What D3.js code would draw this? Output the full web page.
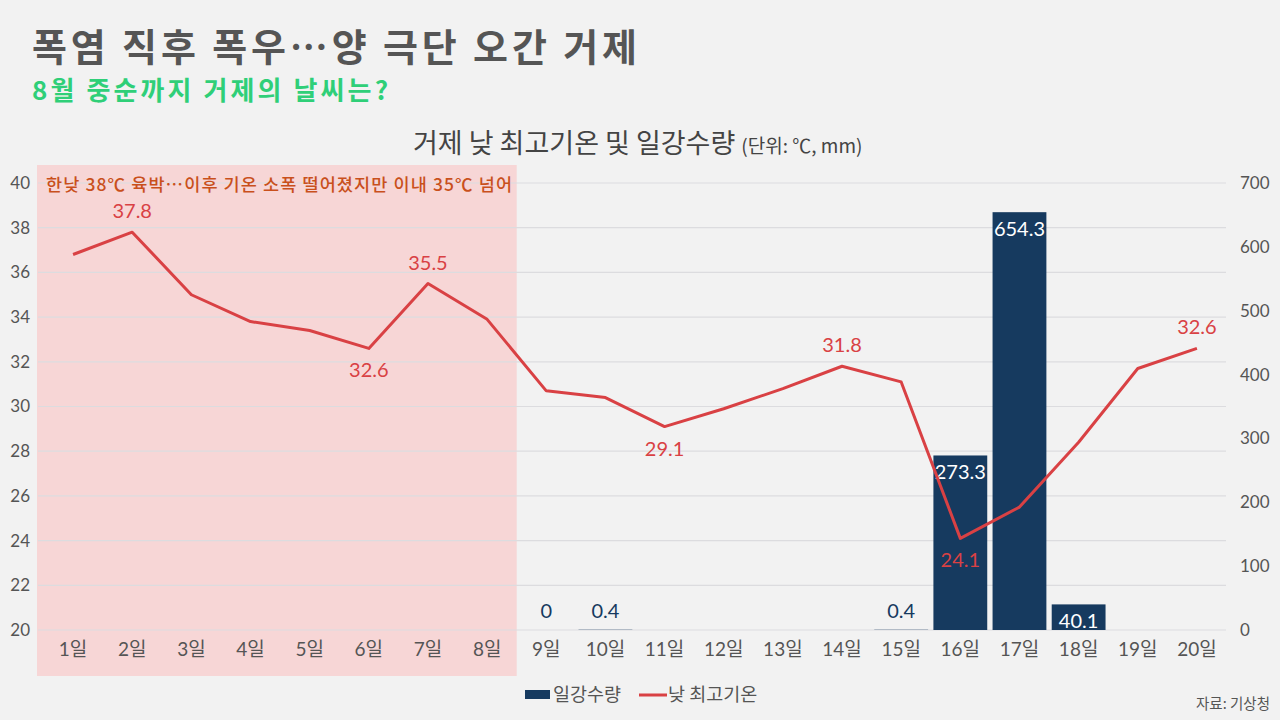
<!DOCTYPE html>
<html>
<head>
<meta charset="utf-8">
<script src="https://cdn.jsdelivr.net/npm/d3@7"></script>
<style>
  body { margin: 0; background: #f2f2f2; }
  svg { display: block; }
</style>
</head>
<body>
<div id="viz"></div>
<script>
const days = ["1일","2일","3일","4일","5일","6일","7일","8일","9일","10일",
  "11일","12일","13일","14일","15일","16일","17일","18일","19일","20일"];

// 낮 최고기온 (℃)
const temps = [36.8, 37.8, 35.0, 33.8, 33.4, 32.6, 35.5, 33.9, 30.7, 30.4,
  29.1, 29.9, 30.8, 31.8, 31.1, 24.1, 25.5, 28.4, 31.7, 32.6];

// 일강수량 (mm), null = 표시 없음
const rain = [null, null, null, null, null, null, null, null, 0, 0.4,
  null, null, null, null, 0.4, 273.3, 654.3, 40.1, null, null];

// which temperature points get a label, and where
const tempLabels = [
  {day: "2일", pos: "above"},
  {day: "6일", pos: "below"},
  {day: "7일", pos: "above"},
  {day: "11일", pos: "below"},
  {day: "14일", pos: "above"},
  {day: "16일", pos: "below"},
  {day: "20일", pos: "above"},
];

const leftTicks = [20, 22, 24, 26, 28, 30, 32, 34, 36, 38, 40];
const rightTicks = [0, 100, 200, 300, 400, 500, 600, 700];
const heatDays = ["1일","2일","3일","4일","5일","6일","7일","8일"];

const W = 1280, H = 720;
const font = "Lato, 'Noto Sans CJK KR', sans-serif";
const kfont = "'Noto Sans CJK KR', sans-serif";
const navy = "#163a5f", red = "#d94144";

const svg = d3.select("#viz").append("svg")
  .attr("width", W).attr("height", H)
  .style("background", "#f2f2f2");

const x = d3.scaleBand().domain(days).range([43.5, 1226.5]).paddingInner(0.09).paddingOuter(0.045);
const yT = d3.scaleLinear().domain([20, 40]).range([630, 183]);
const yR = d3.scaleLinear().domain([0, 700]).range([630, 183]);
const cx = d => x(d) + x.bandwidth() / 2;
const step = x.step();

// heat wave shading
svg.append("rect")
  .attr("x", 37)
  .attr("y", 165)
  .attr("width", x(heatDays[heatDays.length - 1]) + x.bandwidth() + (step - x.bandwidth()) / 2 - 37)
  .attr("height", 676 - 165)
  .attr("fill", "#f7d6d6");

// grid
svg.append("g").selectAll("line")
  .data(leftTicks)
  .join("line")
    .attr("x1", 38).attr("x2", 1226)
    .attr("y1", d => yT(d)).attr("y2", d => yT(d))
    .attr("stroke", "#dcdcdf")
    .attr("stroke-width", 1.2);

// left axis
const axL = svg.append("g")
  .attr("transform", "translate(30,0)")
  .call(d3.axisLeft(yT).tickValues(leftTicks).tickSize(0).tickPadding(0));
axL.select(".domain").remove();
axL.selectAll("text").attr("font-family", font).attr("font-size", 17).attr("fill", "#555");

// right axis
const axR = svg.append("g")
  .attr("transform", "translate(1240,0)")
  .call(d3.axisRight(yR).tickValues(rightTicks).tickSize(0).tickPadding(0));
axR.select(".domain").remove();
axR.selectAll("text").attr("font-family", font).attr("font-size", 17).attr("fill", "#555");

// x axis
const axX = svg.append("g")
  .attr("transform", "translate(0,645)")
  .call(d3.axisBottom(x).tickSize(0).tickPadding(0));
axX.select(".domain").remove();
axX.selectAll("text")
  .attr("dy", "0.6em")
  .attr("font-family", font).attr("font-size", 19).attr("fill", "#555");

// bars
const rainData = days.map((d, i) => ({day: d, v: rain[i]})).filter(d => d.v !== null);

svg.append("g").selectAll("rect")
  .data(rainData)
  .join("rect")
    .attr("x", d => x(d.day))
    .attr("width", x.bandwidth())
    .attr("y", d => yR(d.v))
    .attr("height", d => yR(0) - yR(d.v))
    .attr("fill", navy);

svg.append("g").selectAll("text")
  .data(rainData)
  .join("text")
    .attr("x", d => cx(d.day))
    .attr("y", d => d.v > 20 ? yR(d.v) + 24 : yR(0) - 12)
    .attr("text-anchor", "middle")
    .attr("font-family", font)
    .attr("font-size", 20)
    .attr("fill", d => d.v > 20 ? "#fff" : navy)
    .text(d => d.v);

// temperature line
const tempData = days.map((d, i) => ({day: d, v: temps[i]}));
const line = d3.line().x(d => cx(d.day)).y(d => yT(d.v));

svg.append("path")
  .datum(tempData)
  .attr("d", line)
  .attr("fill", "none")
  .attr("stroke", red)
  .attr("stroke-width", 3)
  .attr("stroke-linejoin", "round");

svg.append("g").selectAll("text")
  .data(tempLabels)
  .join("text")
    .attr("x", d => cx(d.day))
    .attr("y", d => {
      const v = temps[days.indexOf(d.day)];
      return d.pos === "above" ? yT(v) - 14 : yT(v) + 29;
    })
    .attr("text-anchor", "middle")
    .attr("font-family", font)
    .attr("font-size", 20)
    .attr("fill", red)
    .text(d => temps[days.indexOf(d.day)].toFixed(1));

// annotation
svg.append("text")
  .attr("x", 279).attr("y", 191)
  .attr("text-anchor", "middle")
  .attr("font-family", kfont)
  .attr("font-size", 17.5)
  .attr("font-weight", 500)
  .attr("fill", "#c9501c")
  .attr("textLength", 466)
  .attr("lengthAdjust", "spacing")
  .text("한낮 38℃ 육박…이후 기온 소폭 떨어졌지만 이내 35℃ 넘어");

// titles
svg.append("text")
  .attr("x", 32).attr("y", 61)
  .attr("font-family", kfont)
  .attr("font-size", 38)
  .attr("font-weight", 700)
  .attr("fill", "#555")
  .attr("textLength", 605)
  .attr("lengthAdjust", "spacing")
  .text("폭염 직후 폭우…양 극단 오간 거제");

svg.append("text")
  .attr("x", 32).attr("y", 100)
  .attr("font-family", kfont)
  .attr("font-size", 26)
  .attr("font-weight", 700)
  .attr("fill", "#2fcf78")
  .attr("textLength", 356)
  .attr("lengthAdjust", "spacing")
  .text("8월 중순까지 거제의 날씨는?");

const ct = svg.append("text")
  .attr("x", 413).attr("y", 153)
  .attr("font-family", kfont)
  .attr("fill", "#444");
ct.append("tspan").attr("font-size", 27).text("거제 낮 최고기온 및 일강수량 ");
ct.append("tspan").attr("font-size", 19).text("(단위: ℃, mm)");

// legend
const lg = svg.append("g").attr("transform", "translate(525,694)");
lg.append("rect").attr("x", 0).attr("y", -4).attr("width", 25).attr("height", 9).attr("fill", navy);
lg.append("text").attr("x", 28).attr("y", 7)
  .attr("font-family", kfont).attr("font-size", 18.5).attr("fill", "#555").text("일강수량");
lg.append("line").attr("x1", 114).attr("x2", 142).attr("y1", 1).attr("y2", 1)
  .attr("stroke", red).attr("stroke-width", 3);
lg.append("text").attr("x", 143).attr("y", 7)
  .attr("font-family", kfont).attr("font-size", 18.5).attr("fill", "#555").text("낮 최고기온");

// source
svg.append("text")
  .attr("x", 1270).attr("y", 709)
  .attr("text-anchor", "end")
  .attr("font-family", kfont)
  .attr("font-size", 14.5)
  .attr("fill", "#555")
  .text("자료: 기상청");
</script>
</body>
</html>
